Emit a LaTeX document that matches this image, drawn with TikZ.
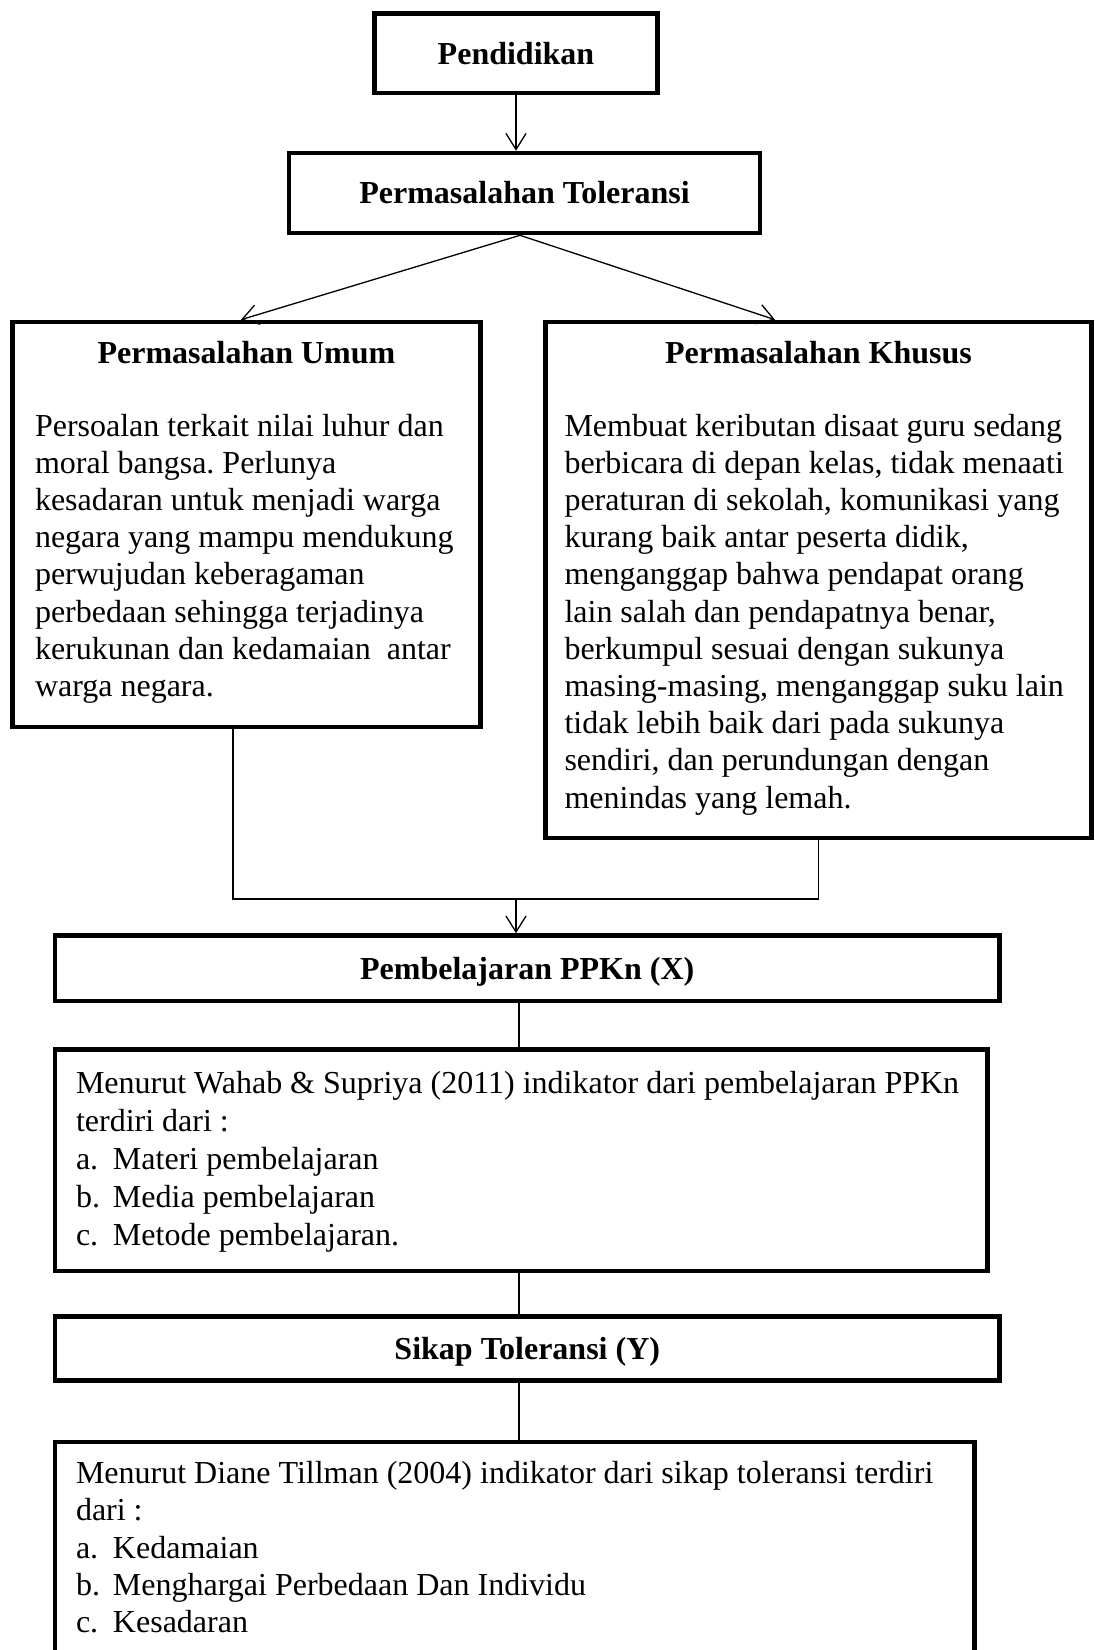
\documentclass[tikz,border=0pt]{standalone}
\usepackage{fontspec}
\setmainfont{Liberation Serif}
\usetikzlibrary{arrows.meta}
\frenchspacing

% fixed size text panel, content hangs from the top
\newcommand{\panel}[3]{\parbox[c][#2][t]{#1}{#3}}
\newcommand{\lst}[1]{\makebox[18.5pt][l]{#1}}

\tikzset{
  every node/.style={font=\fontsize{16pt}{18.6pt}\selectfont},
  head/.style={draw, line width=2.3pt, inner sep=0pt,
    font=\fontsize{16pt}{18.6pt}\selectfont\bfseries,
    text height=10.9pt, text depth=0pt},
  panelbox/.style={draw, line width=2.3pt, inner sep=0pt},
  link/.style={line width=0.65pt},
  arr/.style={link, -{Straight Barb[length=8pt,width=10pt]}},
}

\begin{document}
\begin{tikzpicture}[x=0.5pt,y=-0.5pt]
\useasboundingbox (0,0) rectangle (1095,1650);
\clip (0,0) rectangle (1095,1650);

\node[head, minimum width=141.5pt, minimum height=39.75pt] (pend) at (516,53.25) {Pendidikan};
\node[head, minimum width=235.5pt, minimum height=40pt] (tol) at (524.5,193) {Permasalahan Toleransi};

\node[panelbox] (umum) at (246.5,524.5) {\panel{234pt}{202.5pt}{%
  \vspace*{7.5pt}\centering\strut\textbf{Permasalahan Umum}\par
  \vspace{17.9pt}\raggedright\leftskip=11.25pt
  Persoalan terkait nilai luhur dan\\
  moral bangsa. Perlunya\\
  kesadaran untuk menjadi warga\\
  negara yang mampu mendukung\\
  perwujudan keberagaman\\
  perbedaan sehingga terjadinya\\
  kerukunan dan kedamaian\ \ antar\\
  warga negara.}};

\node[panelbox] (khusus) at (818.5,580) {\panel{273pt}{258pt}{%
  \vspace*{7.5pt}\centering\strut\textbf{Permasalahan Khusus}\par
  \vspace{17.9pt}\raggedright\leftskip=9.5pt
  Membuat keributan disaat guru sedang\\
  berbicara di depan kelas, tidak menaati\\
  peraturan di sekolah, komunikasi yang\\
  kurang baik antar peserta didik,\\
  menganggap bahwa pendapat orang\\
  lain salah dan pendapatnya benar,\\
  berkumpul sesuai dengan sukunya\\
  masing-masing, menganggap suku lain\\
  tidak lebih baik dari pada sukunya\\
  sendiri, dan perundungan dengan\\
  menindas yang lemah.}};

\node[head, minimum width=472.25pt, minimum height=32.75pt] (ppkn) at (527.25,968.25) {Pembelajaran PPKn (X)};

\node[panelbox] (wahab) at (521.25,1160.25) {\panel{466.25pt}{110.75pt}{%
  \baselineskip=19pt
  \vspace*{9.2pt}\raggedright\leftskip=10.5pt
  \strut Menurut Wahab \& Supriya (2011) indikator dari pembelajaran PPKn\\
  terdiri dari :\\
  \lst{a.}Materi pembelajaran\\
  \lst{b.}Media pembelajaran\\
  \lst{c.}Metode pembelajaran.}};

\node[head, minimum width=472.25pt, minimum height=32pt] (sikap) at (527.25,1348.5) {Sikap Toleransi (Y)};

\node[panelbox] (till) at (514.75,1571) {\panel{459.75pt}{129pt}{%
  \vspace*{7.8pt}\raggedright\leftskip=10.5pt
  \strut Menurut Diane Tillman (2004) indikator dari sikap toleransi terdiri\\
  dari :\\
  \lst{a.}Kedamaian\\
  \lst{b.}Menghargai Perbedaan Dan Individu\\
  \lst{c.}Kesadaran}};

% connectors
\coordinate (join) at (516,899);
\coordinate (spine) at (519,0);

\draw[arr] (pend.south) -- (pend.south |- tol.north);
\draw[arr] ([xshift=-2.25pt]tol.south) -- ([xshift=-2.75pt]umum.north);
\draw[arr] ([xshift=-2.25pt]tol.south) -- ([xshift=-21.75pt]khusus.north);

\draw[link] ([xshift=-6.75pt]umum.south) |- (join) -| (khusus.south);
\draw[arr] (join) -- (join |- ppkn.north);

\draw[link] (spine |- ppkn.south) -- (spine |- wahab.north);
\draw[link] (spine |- wahab.south) -- (spine |- sikap.north);
\draw[link] (spine |- sikap.south) -- (spine |- till.north);
\end{tikzpicture}
\end{document}
